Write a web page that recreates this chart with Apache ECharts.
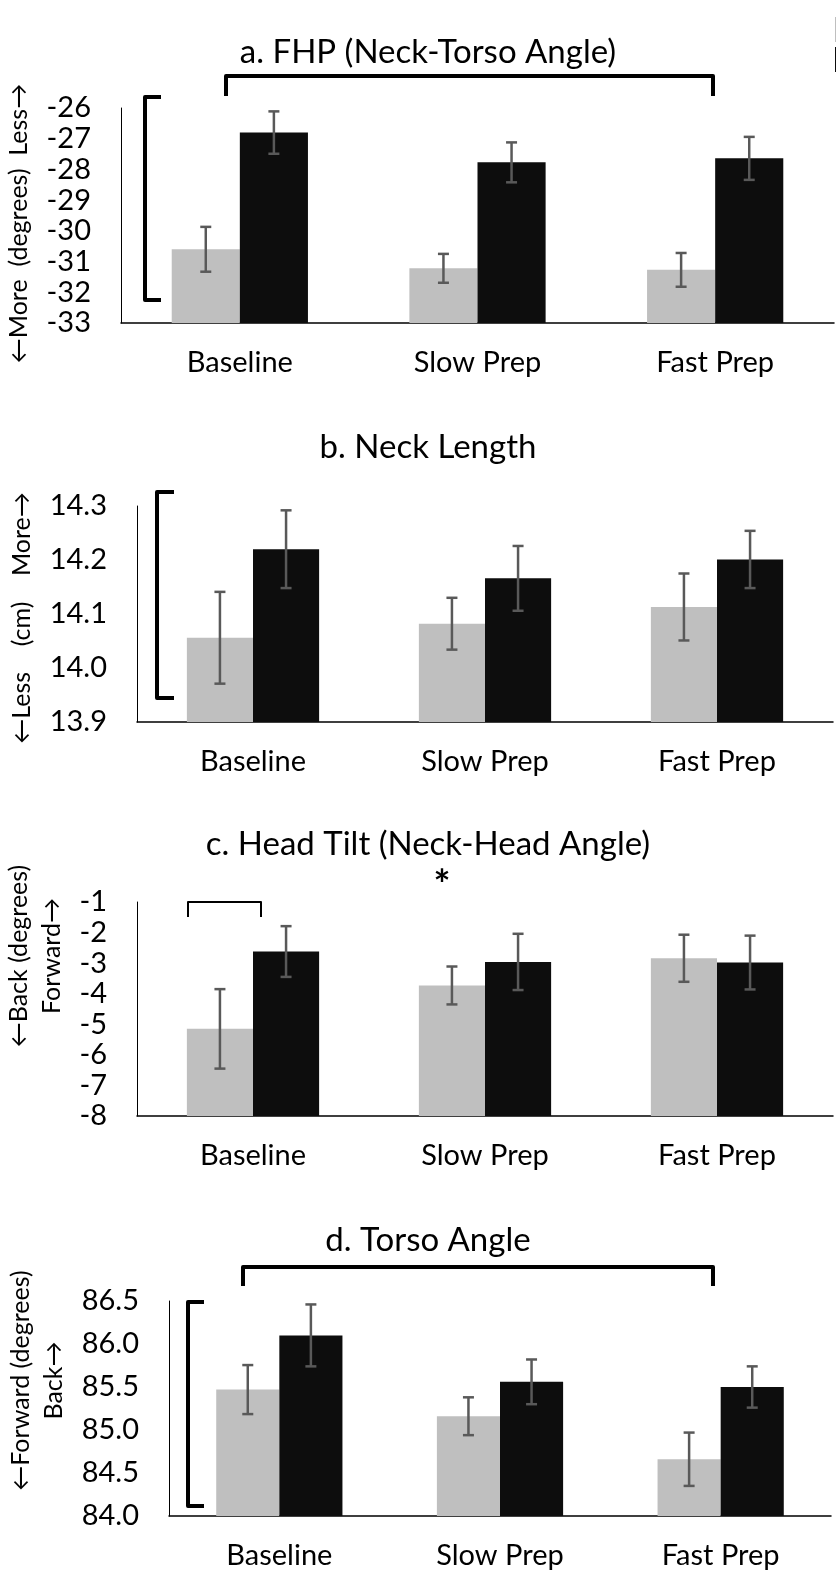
<!DOCTYPE html>
<html>
<head>
<meta charset="utf-8">
<script src="https://cdn.jsdelivr.net/npm/echarts@6/dist/echarts.min.js"></script>
<style>
  html, body { margin: 0; padding: 0; background: #fff; }
  #chart { width: 836px; height: 1572px; }
</style>
</head>
<body>
<div id="chart"></div>
<script>
// Conditions on the horizontal axis of every panel
const categories = ['Baseline', 'Slow Prep', 'Fast Prep'];

// a. FHP (Neck-Torso Angle), degrees: means and error half-widths
const fhpGrey = [-30.6, -31.22, -31.27];
const fhpGreyErr = [0.73, 0.47, 0.55];
const fhpBlack = [-26.8, -27.77, -27.64];
const fhpBlackErr = [0.69, 0.65, 0.7];

// b. Neck Length, cm
const neckGrey = [14.056, 14.082, 14.113];
const neckGreyErr = [0.085, 0.048, 0.062];
const neckBlack = [14.22, 14.166, 14.201];
const neckBlackErr = [0.072, 0.06, 0.053];

// c. Head Tilt (Neck-Head Angle), degrees
const tiltGrey = [-5.15, -3.73, -2.84];
const tiltGreyErr = [1.3, 0.62, 0.77];
const tiltBlack = [-2.62, -2.96, -2.98];
const tiltBlackErr = [0.83, 0.92, 0.88];

// d. Torso Angle, degrees
const torsoGrey = [85.47, 85.16, 84.66];
const torsoGreyErr = [0.285, 0.22, 0.31];
const torsoBlack = [86.1, 85.56, 85.5];
const torsoBlackErr = [0.36, 0.26, 0.24];

// Axis ticks
const fhpTicks = { min: -33, max: -26, interval: 1 };
const neckTicks = { min: 13.9, max: 14.3, interval: 0.1 };
const tiltTicks = { min: -8, max: -1, interval: 1 };
const torsoTicks = { min: 84, max: 86.5, interval: 0.5 };

const groupNames = ['Group 1', 'Group 2'];

const FONT = 'Lato, "Open Sans", sans-serif';
const GREY = '#bfbfbf';
const BLACK = '#0d0d0d';
const ERR = '#595959';

function zip(vals, errs) {
  return vals.map((v, i) => [i, v, errs[i]]);
}

// Bar drawn from the bottom of the plot up to the mean, plus an error bar
function makeRender(side, frac) {
  return function (params, api) {
    const ci = api.value(0), v = api.value(1), e = api.value(2);
    const cs = params.coordSys;
    const cw = api.size([1, 0])[0];
    const bw = cw * frac;
    const p = api.coord([ci, v]);
    const baseY = cs.y + cs.height;
    const x0 = side < 0 ? p[0] - bw : p[0];
    const cx = x0 + bw / 2;
    const yTop = api.coord([ci, v + e])[1];
    const yBot = api.coord([ci, v - e])[1];
    const cap = 5.5;
    const errStyle = { stroke: ERR, lineWidth: 2.5 };
    return {
      type: 'group',
      children: [
        { type: 'rect', shape: { x: x0, y: p[1], width: bw, height: baseY - p[1] },
          style: { fill: api.visual('color') } },
        { type: 'line', shape: { x1: cx, y1: yTop, x2: cx, y2: yBot }, style: errStyle },
        { type: 'line', shape: { x1: cx - cap, y1: yTop, x2: cx + cap, y2: yTop }, style: errStyle },
        { type: 'line', shape: { x1: cx - cap, y1: yBot, x2: cx + cap, y2: yBot }, style: errStyle }
      ]
    };
  };
}

// namePad shifts the rotated axis title along the axis: [0, right, 0, left]
const panels = [
  { grid: { left: 121, top: 108, width: 713, height: 215 }, ticks: fhpTicks, dec: 0,
    name: '←More  (degrees)  Less→', nameGap: 73, namePad: [0, 16, 0, 0], frac: 0.2866,
    grey: zip(fhpGrey, fhpGreyErr), black: zip(fhpBlack, fhpBlackErr) },
  { grid: { left: 137, top: 506, width: 696, height: 216 }, ticks: neckTicks, dec: 1,
    name: '←Less    (cm)    More→', nameGap: 93, namePad: [0, 8, 0, 0], frac: 0.285,
    grey: zip(neckGrey, neckGreyErr), black: zip(neckBlack, neckBlackErr) },
  { grid: { left: 137, top: 902, width: 696, height: 214 }, ticks: tiltTicks, dec: 0,
    name: '←Back (degrees)\nForward→', nameGap: 58, namePad: [0, 0, 0, 106], frac: 0.285,
    grey: zip(tiltGrey, tiltGreyErr), black: zip(tiltBlack, tiltBlackErr) },
  { grid: { left: 169, top: 1301, width: 662, height: 215 }, ticks: torsoTicks, dec: 1,
    name: '←Forward (degrees)\nBack→', nameGap: 91, namePad: [0, 0, 0, 56], frac: 0.286,
    grey: zip(torsoGrey, torsoGreyErr), black: zip(torsoBlack, torsoBlackErr) }
];

const titles = [
  { text: 'a. FHP (Neck-Torso Angle)', top: 31 },
  { text: 'b. Neck Length', top: 426 },
  { text: 'c. Head Tilt (Neck-Head Angle)', top: 823 },
  { text: 'd. Torso Angle', top: 1219 }
];

const grids = [], xAxes = [], yAxes = [], series = [];
panels.forEach((p, i) => {
  grids.push(Object.assign({ outerBoundsMode: 'none', containLabel: false }, p.grid));
  xAxes.push({
    type: 'category', gridIndex: i, data: categories, boundaryGap: true,
    axisLine: { lineStyle: { color: '#000', width: 1.5 } },
    axisTick: { show: false },
    axisLabel: { color: '#000', fontSize: 29, fontFamily: FONT, margin: 25 }
  });
  yAxes.push({
    type: 'value', gridIndex: i,
    min: p.ticks.min, max: p.ticks.max, interval: p.ticks.interval,
    splitLine: { show: false },
    axisTick: { show: false },
    axisLine: { show: true, lineStyle: { color: '#000', width: 1 } },
    axisLabel: {
      color: '#000', fontSize: 29, fontFamily: FONT, margin: 30,
      formatter: v => Number(v).toFixed(p.dec)
    },
    name: p.name, nameLocation: 'middle', nameRotate: 90, nameGap: p.nameGap,
    nameTextStyle: { color: '#000', fontSize: 25, fontFamily: FONT, lineHeight: 33, padding: p.namePad }
  });
  series.push({
    type: 'custom', name: groupNames[0], xAxisIndex: i, yAxisIndex: i,
    itemStyle: { color: GREY }, renderItem: makeRender(-1, p.frac),
    encode: { x: 0, y: 1 }, data: p.grey
  });
  series.push({
    type: 'custom', name: groupNames[1], xAxisIndex: i, yAxisIndex: i,
    itemStyle: { color: BLACK }, renderItem: makeRender(1, p.frac),
    encode: { x: 0, y: 1 }, data: p.black
  });
});

// Significance brackets and marker
const bracket = (points, w) => ({
  type: 'polyline', silent: true,
  shape: { points },
  style: { stroke: '#000', lineWidth: w, fill: null, lineJoin: 'round', lineCap: 'butt' }
});

const chart = echarts.init(document.getElementById('chart'), null, { renderer: 'canvas' });
chart.setOption({
  backgroundColor: '#fff',
  animation: false,
  title: titles.map(t => ({
    text: t.text, left: 423, top: t.top, textAlign: 'center',
    textStyle: { color: '#000', fontSize: 33, fontWeight: 'normal', fontFamily: FONT }
  })),
  legend: {
    data: groupNames, orient: 'vertical', left: 830, top: 12,
    itemWidth: 25, itemHeight: 25, itemGap: 5, icon: 'rect',
    textStyle: { fontSize: 22, fontFamily: FONT, color: '#000' }
  },
  grid: grids,
  xAxis: xAxes,
  yAxis: yAxes,
  series: series,
  graphic: [
    bracket([[226, 96], [226, 76], [713, 76], [713, 96]], 4),
    bracket([[161, 97], [145, 97], [145, 300], [161, 300]], 4),
    bracket([[174, 492], [157, 492], [157, 698], [174, 698]], 4),
    bracket([[188, 917], [188, 902], [261, 902], [261, 917]], 2),
    bracket([[243, 1286], [243, 1267], [713, 1267], [713, 1286]], 4),
    bracket([[204, 1302], [188, 1302], [188, 1506], [204, 1506]], 4),
    { type: 'text', silent: true, x: 442, y: 886,
      style: { text: '*', font: 'bold 40px ' + FONT, fill: '#000', align: 'center', verticalAlign: 'middle' } }
  ]
});
</script>
</body>
</html>
